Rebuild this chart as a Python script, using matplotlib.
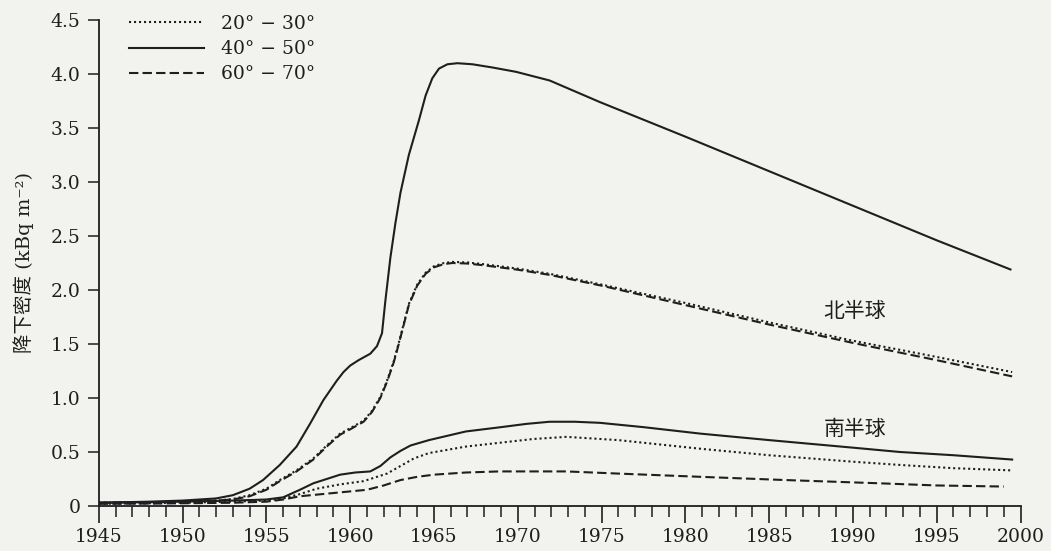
import matplotlib
matplotlib.use("Agg")
import matplotlib.pyplot as plt
from matplotlib.ticker import MultipleLocator

# values (year, kBq m^-2)
# northern hemisphere
n40_year = [1945, 1948, 1950, 1952, 1953, 1954, 1954.8, 1955.8, 1956.8, 1957.6, 1958.4, 1959.2, 1959.6,
            1960.0, 1960.5, 1961.2, 1961.6, 1961.9, 1962.1, 1962.4, 1962.7, 1963.0, 1963.5, 1964.1,
            1964.5, 1964.9, 1965.3, 1965.8, 1966.4, 1967.3, 1968.5, 1969.9, 1971.9, 1974.9, 1980,
            1985, 1990, 1995, 1999.4]
n40_val = [0.03, 0.04, 0.05, 0.07, 0.10, 0.16, 0.24, 0.38, 0.55, 0.76, 0.98, 1.16, 1.24,
           1.30, 1.35, 1.41, 1.48, 1.60, 1.90, 2.30, 2.62, 2.90, 3.25, 3.57,
           3.80, 3.96, 4.05, 4.09, 4.10, 4.09, 4.06, 4.02, 3.94, 3.74, 3.42,
           3.10, 2.78, 2.46, 2.19]

n60_year = [1945, 1948, 1950, 1952, 1953, 1954, 1955, 1955.8, 1956.8, 1957.8, 1958.6, 1959.4, 1960.0,
            1960.8, 1961.3, 1961.8, 1962.2, 1962.6, 1962.9, 1963.2, 1963.5, 1964.0, 1964.5, 1965.0,
            1965.6, 1966.1, 1967.0, 1967.9, 1969.9, 1971.9, 1975, 1980, 1985, 1990, 1995, 1999.5]
n60_val = [0.03, 0.035, 0.04, 0.05, 0.06, 0.09, 0.15, 0.23, 0.32, 0.43, 0.55, 0.66, 0.71,
           0.78, 0.87, 1.00, 1.15, 1.33, 1.50, 1.68, 1.86, 2.04, 2.15, 2.21,
           2.24, 2.25, 2.245, 2.23, 2.19, 2.14, 2.04, 1.86, 1.68, 1.51, 1.35, 1.20]

n20_year = n60_year
n20_val = [0.03, 0.035, 0.04, 0.05, 0.065, 0.10, 0.16, 0.24, 0.33, 0.44, 0.56, 0.67, 0.72,
           0.79, 0.88, 1.01, 1.16, 1.34, 1.51, 1.69, 1.87, 2.05, 2.16, 2.22,
           2.25, 2.26, 2.255, 2.24, 2.20, 2.15, 2.05, 1.88, 1.70, 1.53, 1.38, 1.24]

# southern hemisphere
s40_year = [1945, 1948, 1950, 1953, 1955, 1956, 1957, 1957.8, 1958.6, 1959.4, 1960.3, 1961.2, 1961.8,
            1962.4, 1963.0, 1963.6, 1964.7, 1966.9, 1969, 1970.5, 1971.9, 1973.4, 1974.9, 1977.5,
            1980.9, 1985, 1990, 1992.8, 1996, 1999.5]
s40_val = [0.03, 0.035, 0.04, 0.05, 0.06, 0.08, 0.15, 0.21, 0.25, 0.29, 0.31, 0.32, 0.37,
           0.45, 0.51, 0.56, 0.61, 0.69, 0.73, 0.76, 0.78, 0.78, 0.77, 0.73,
           0.67, 0.61, 0.54, 0.50, 0.47, 0.43]

s20_year = [1945, 1948, 1950, 1953, 1955, 1956, 1957, 1958, 1959.4, 1960.8, 1962.2, 1963.0, 1963.8,
            1964.7, 1966.9, 1970.9, 1972.9, 1976, 1980.9, 1985, 1990, 1992.8, 1996, 1999.4]
s20_val = [0.02, 0.025, 0.03, 0.04, 0.05, 0.07, 0.11, 0.16, 0.20, 0.23, 0.30, 0.37, 0.44,
           0.49, 0.55, 0.62, 0.64, 0.61, 0.53, 0.47, 0.41, 0.38, 0.35, 0.33]

s60_year = [1945, 1948, 1950, 1953, 1955, 1956, 1957, 1959, 1961, 1962, 1963, 1964, 1965,
            1966.9, 1968.9, 1972.9, 1976, 1980.9, 1986, 1991.6, 1995, 1999]
s60_val = [0.02, 0.022, 0.025, 0.03, 0.04, 0.06, 0.09, 0.12, 0.15, 0.19, 0.24, 0.27, 0.29,
           0.31, 0.32, 0.32, 0.30, 0.27, 0.24, 0.21, 0.19, 0.18]

legend_labels = ["20° − 30°", "40° − 50°", "60° − 70°"]
y_ticks = [0, 0.5, 1.0, 1.5, 2.0, 2.5, 3.0, 3.5, 4.0, 4.5]
y_ticklabels = ["0", "0.5", "1.0", "1.5", "2.0", "2.5", "3.0", "3.5", "4.0", "4.5"]
x_ticks = list(range(1945, 2001, 5))

ink = "#1e1e1e"
paper = "#f2f3ee"

fig = plt.figure(figsize=(10.51, 5.51), dpi=100, facecolor=paper)
ax = fig.add_axes([0.094, 0.0817, 0.877, 0.882], facecolor=paper)

dotted = (0, (1, 1.4))
dashed = (0, (4.5, 2))
lw = 1.5

l20, = ax.plot(n20_year, n20_val, color=ink, lw=lw, ls=dotted)
l40, = ax.plot(n40_year, n40_val, color=ink, lw=lw, ls="-")
l60, = ax.plot(n60_year, n60_val, color=ink, lw=lw, ls=dashed)
ax.plot(s20_year, s20_val, color=ink, lw=lw, ls=dotted)
ax.plot(s40_year, s40_val, color=ink, lw=lw, ls="-")
ax.plot(s60_year, s60_val, color=ink, lw=lw, ls=dashed)

ax.set_xlim(1945, 2000)
ax.set_ylim(0, 4.5)
for side in ["top", "right"]:
    ax.spines[side].set_visible(False)
for side in ["left", "bottom"]:
    ax.spines[side].set_color(ink)
    ax.spines[side].set_linewidth(1.3)

ax.set_xticks(x_ticks)
ax.xaxis.set_minor_locator(MultipleLocator(1))
ax.set_yticks(y_ticks)
ax.set_yticklabels(y_ticklabels)
ax.tick_params(axis="x", which="major", direction="out", length=12, width=1.2,
               pad=4, labelsize=13.5, colors=ink)
ax.tick_params(axis="x", which="minor", direction="out", length=8, width=1.1, colors=ink)
ax.tick_params(axis="y", direction="out", length=8, width=1.1, pad=5,
               labelsize=13.5, colors=ink)
for lab in ax.get_xticklabels() + ax.get_yticklabels():
    lab.set_family("DejaVu Serif")

ax.set_ylabel("降下密度 (kBq m⁻²)", family=["DejaVu Serif", "Noto Sans CJK SC"],
              fontsize=14, color=ink, labelpad=12)

leg = ax.legend([l20, l40, l60], legend_labels, loc="upper left",
                bbox_to_anchor=(0.015, 1.045), frameon=False, handlelength=4.0,
                handletextpad=0.9, labelspacing=0.38,
                prop={"family": "DejaVu Serif", "size": 13.5})
for t in leg.get_texts():
    t.set_color(ink)

ax.text(1990.1, 1.81, "北半球", family="Noto Sans CJK SC", fontsize=15,
        ha="center", va="center", color=ink)
ax.text(1990.1, 0.71, "南半球", family="Noto Sans CJK SC", fontsize=15,
        ha="center", va="center", color=ink)

fig.savefig("out.png", dpi=100, facecolor=paper)
